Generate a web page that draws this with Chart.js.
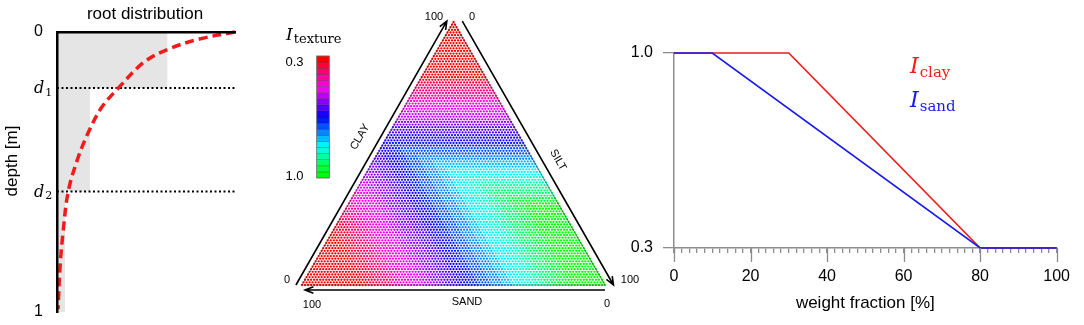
<!DOCTYPE html>
<html>
<head>
<meta charset="utf-8">
<script src="https://cdn.jsdelivr.net/npm/chart.js@4.4.1/dist/chart.umd.min.js"></script>
<style>
  html, body { margin: 0; padding: 0; background: #fff; }
  #wrap { position: relative; width: 1084px; height: 325px; overflow: hidden; }
  canvas { position: absolute; top: 0; }
</style>
</head>
<body>
<div id="wrap">
  <canvas id="rootChart" style="left:0px" width="260" height="325"></canvas>
  <canvas id="ternChart" style="left:270px" width="370" height="325"></canvas>
  <canvas id="indexChart" style="left:610px" width="474" height="325"></canvas>
</div>
<script>
// ---- data ----
// root distribution: relative root density vs depth
const rootDepth = [0, 0.025, 0.06, 0.107, 0.2, 0.27, 0.36, 0.455, 0.57, 0.715, 0.84, 0.99];
const rootShare = [1.0, 0.80, 0.63, 0.49, 0.345, 0.25, 0.175, 0.115, 0.063, 0.034, 0.017, 0.006];
// soil layers: boundaries (0, d1, d2, 1) and layer weights w_i (grey blocks)
const layerDepth = [0, 0.2, 0.57, 1.0];
const layerWeight = [0.62, 0.185, 0.045];
const depthLabels = ['0', 'd1', 'd2', '1'];

// texture index vs weight fraction
const clayFrac = [0, 30, 80, 100];
const clayIndex = [1.0, 1.0, 0.3, 0.3];
const sandFrac = [0, 10, 80, 100];
const sandIndex = [1.0, 1.0, 0.3, 0.3];
const fracTicks = [0, 20, 40, 60, 80, 100];
const indexTicks = [0.3, 1.0];

// colour bar levels for I_texture
const nLevels = 20;

const SANS = '"Liberation Sans", Arial, Helvetica, sans-serif';
const SERIF = '"DejaVu Serif", "Liberation Serif", serif';

// ---- helpers ----
function interp(xs, ys, v) {
  for (let i = 1; i < xs.length; i++) {
    if (v <= xs[i]) {
      const t = (v - xs[i - 1]) / (xs[i] - xs[i - 1]);
      return ys[i - 1] + t * (ys[i] - ys[i - 1]);
    }
  }
  return ys[ys.length - 1];
}

// 0.3 -> red, 1.0 -> green (rainbow going through magenta, blue, cyan)
function levelColor(k) {
  const hue = 120 + (k / (nLevels - 1)) * 240;
  return 'hsl(' + (hue % 360) + ',100%,50%)';
}
function indexColor(I) {
  const k = Math.round((1 - I) / 0.7 * (nLevels - 1));
  return levelColor(k);
}

// math-like label: italic main letter + upright subscript
function mathLabel(ctx, x, y, main, sub, size, subSize, color) {
  ctx.save();
  ctx.fillStyle = color;
  ctx.textAlign = 'left';
  ctx.textBaseline = 'alphabetic';
  ctx.font = 'italic ' + size + 'px ' + SERIF;
  ctx.fillText(main, x, y);
  const w = ctx.measureText(main).width;
  ctx.font = subSize + 'px ' + SERIF;
  ctx.fillText(sub, x + w + 1, y + size * 0.18);
  ctx.restore();
}

function arrow(ctx, x1, y1, x2, y2) {
  const a = Math.atan2(y2 - y1, x2 - x1);
  const L = 9, s = 0.38;
  ctx.beginPath();
  ctx.moveTo(x1, y1);
  ctx.lineTo(x2, y2);
  ctx.moveTo(x2 - L * Math.cos(a - s), y2 - L * Math.sin(a - s));
  ctx.lineTo(x2, y2);
  ctx.lineTo(x2 - L * Math.cos(a + s), y2 - L * Math.sin(a + s));
  ctx.stroke();
}

// ---- panel 1: root distribution ----
const shadePoly = [{ x: 0, y: layerDepth[0] }];
layerWeight.forEach((w, i) => {
  shadePoly.push({ x: w, y: layerDepth[i] });
  shadePoly.push({ x: w, y: layerDepth[i + 1] });
});
shadePoly.push({ x: 0, y: layerDepth[layerDepth.length - 1] });

const rootText = {
  id: 'rootText',
  afterDraw(chart) {
    const { ctx, scales } = chart;
    ctx.save();
    ctx.fillStyle = '#000';
    ctx.font = '17px ' + SANS;
    ctx.textAlign = 'center';
    ctx.textBaseline = 'middle';
    ctx.fillText('root distribution', 145, 14);
    ctx.translate(12, 161);
    ctx.rotate(-Math.PI / 2);
    ctx.fillText('depth [m]', 0, 0);
    ctx.restore();
    // d1, d2 tick labels
    [1, 2].forEach((i) => {
      const py = scales.y.getPixelForValue(layerDepth[i]);
      mathLabel(ctx, 34, py + 5, 'd', depthLabels[i].slice(1), 16, 11, '#000');
    });
  }
};

new Chart(document.getElementById('rootChart'), {
  type: 'scatter',
  data: {
    datasets: [
      {
        data: rootDepth.map((d, i) => ({ x: rootShare[i], y: d })),
        showLine: true,
        borderColor: '#f01c1c',
        borderWidth: 3.5,
        borderDash: [9, 5],
        pointRadius: 0,
        tension: 0.35,
        clip: 4
      },
      {
        data: [{ x: 0, y: layerDepth[1] }, { x: 1, y: layerDepth[1] }],
        showLine: true, borderColor: '#000', borderWidth: 2, borderDash: [2, 2.5], pointRadius: 0
      },
      {
        data: [{ x: 0, y: layerDepth[2] }, { x: 1, y: layerDepth[2] }],
        showLine: true, borderColor: '#000', borderWidth: 2, borderDash: [2, 2.5], pointRadius: 0
      },
      {
        data: shadePoly,
        showLine: true,
        borderWidth: 0,
        backgroundColor: '#e5e5e5',
        fill: 'shape',
        pointRadius: 0,
        tension: 0
      }
    ]
  },
  options: {
    responsive: false,
    animation: false,
    events: [],
    layout: { padding: { left: 0, top: 32, right: 25, bottom: 13 }, autoPadding: false },
    plugins: { legend: { display: false }, tooltip: { enabled: false } },
    scales: {
      x: {
        type: 'linear', position: 'top', min: 0, max: 1,
        grid: { display: false, drawTicks: false },
        ticks: { display: false },
        border: { color: '#000', width: 2.5, z: 1 },
        afterFit: (s) => { s.height = 0; s.paddingLeft = 0; s.paddingRight = 0; }
      },
      y: {
        type: 'linear', reverse: true, min: 0, max: 1,
        grid: { display: false, drawTicks: false },
        border: { color: '#000', width: 2.5, z: 1 },
        ticks: {
          padding: 14, color: '#000', font: { family: SANS, size: 16 },
          callback: (v) => (v === 0 || v === 1 ? String(v) : '')
        },
        afterBuildTicks: (s) => { s.ticks = layerDepth.map((v) => ({ value: v })); },
        afterFit: (s) => { s.width = 57; s.paddingTop = 0; s.paddingBottom = 0; }
      }
    }
  },
  plugins: [rootText]
});

// ---- panel 2: texture triangle ----
const H = 50 * Math.sqrt(3);
const ternPts = [];
const ternCols = [];
for (let clay = 0; clay <= 100; clay++) {
  for (let sand = 0; sand <= 100 - clay; sand++) {
    const silt = 100 - clay - sand;
    const I = Math.min(interp(clayFrac, clayIndex, clay), interp(sandFrac, sandIndex, sand));
    ternPts.push({ x: silt + clay / 2, y: clay * Math.sqrt(3) / 2 });
    ternCols.push(indexColor(I));
  }
}

const ternDecor = {
  id: 'ternDecor',
  afterDraw(chart) {
    const { ctx, scales } = chart;
    const px = (v) => scales.x.getPixelForValue(v);
    const py = (v) => scales.y.getPixelForValue(v);
    ctx.save();
    ctx.strokeStyle = '#000';
    ctx.lineWidth = 1.6;
    // CLAY (left, pointing up), SILT (right, pointing down), SAND (bottom, pointing left)
    arrow(ctx, px(-2), py(0), px(47.8), py(H + 0.3));
    arrow(ctx, px(52.9), py(H + 0.3), px(102.8), py(0));
    arrow(ctx, px(100), py(-1.65), px(1), py(-1.65));

    ctx.fillStyle = '#000';
    ctx.font = '11px ' + SANS;
    ctx.textAlign = 'center';
    ctx.textBaseline = 'middle';
    ctx.fillText('100', 164, 17);
    ctx.fillText('0', 202, 17);
    ctx.fillText('0', 17, 280);
    ctx.fillText('100', 42, 305);
    ctx.fillText('SAND', 197, 302);
    ctx.fillText('0', 337, 304);
    ctx.fillText('100', 360, 280);
    ctx.save();
    ctx.translate(90, 137);
    ctx.rotate(-Math.PI / 3);
    ctx.fillText('CLAY', 0, 0);
    ctx.restore();
    ctx.save();
    ctx.translate(288, 160);
    ctx.rotate(Math.PI / 3);
    ctx.fillText('SILT', 0, 0);
    ctx.restore();

    // colour bar
    const bx = 46.7, bw = 12.6, top = 56, bottom = 178;
    const sh = (bottom - top) / nLevels;
    for (let k = 0; k < nLevels; k++) {
      const y0 = top + (nLevels - 1 - k) * sh;
      ctx.fillStyle = levelColor(k);
      ctx.fillRect(bx, y0, bw, sh);
      ctx.strokeStyle = 'rgba(0,0,0,0.35)';
      ctx.lineWidth = 0.6;
      ctx.strokeRect(bx, y0, bw, sh);
    }
    ctx.strokeStyle = '#777';
    ctx.lineWidth = 0.8;
    ctx.strokeRect(bx, top, bw, bottom - top);
    ctx.fillStyle = '#000';
    ctx.font = '13px ' + SANS;
    ctx.textAlign = 'right';
    ctx.fillText(indexTicks[0].toFixed(1), 33.5, 62);
    ctx.fillText(indexTicks[1].toFixed(1), 33.5, 176);
    ctx.restore();
    mathLabel(ctx, 16, 39.5, 'I', 'texture', 17, 13, '#000');
  }
};

new Chart(document.getElementById('ternChart'), {
  type: 'scatter',
  data: {
    datasets: [
      {
        data: [{ x: 0, y: 0 }, { x: 50, y: H }, { x: 100, y: 0 }, { x: 0, y: 0 }],
        showLine: true, borderColor: 'rgba(50,50,50,0.7)', borderWidth: 0.8, pointRadius: 0, clip: 3
      },
      {
        data: ternPts,
        pointRadius: 1.15,
        pointBorderWidth: 0,
        pointBackgroundColor: ternCols,
        clip: 3
      }
    ]
  },
  options: {
    responsive: false,
    animation: false,
    events: [],
    layout: { padding: { left: 32, right: 35, top: 22, bottom: 40 }, autoPadding: false },
    plugins: { legend: { display: false }, tooltip: { enabled: false } },
    scales: {
      x: { type: 'linear', display: false, min: 0, max: 100 },
      y: { type: 'linear', display: false, min: 0, max: H }
    }
  },
  plugins: [ternDecor]
});

// ---- panel 3: I_clay and I_sand ----
const indexDecor = {
  id: 'indexDecor',
  afterDraw(chart) {
    const { ctx, scales } = chart;
    const y0 = scales.y.getPixelForValue(0.3);
    ctx.save();
    ctx.strokeStyle = '#8c8c8c';
    ctx.lineWidth = 1.3;
    ctx.beginPath();
    fracTicks.forEach((v) => {
      const x = Math.round(scales.x.getPixelForValue(v)) + 0.5;
      ctx.moveTo(x, y0);
      ctx.lineTo(x, y0 + 14);
    });
    ctx.stroke();
    ctx.restore();
    mathLabel(ctx, 300, 73, 'I', 'clay', 22, 15, '#f01c1c');
    mathLabel(ctx, 300, 107, 'I', 'sand', 22, 15, '#1a1aee');
  }
};

new Chart(document.getElementById('indexChart'), {
  type: 'scatter',
  data: {
    datasets: [
      {
        label: 'sand',
        data: sandFrac.map((x, i) => ({ x: x, y: sandIndex[i] })),
        showLine: true, borderColor: '#1a1aee', borderWidth: 1.7, pointRadius: 0, clip: 4
      },
      {
        label: 'clay',
        data: clayFrac.map((x, i) => ({ x: x, y: clayIndex[i] })),
        showLine: true, borderColor: '#f01c1c', borderWidth: 1.7, pointRadius: 0, clip: 4
      }
    ]
  },
  options: {
    responsive: false,
    animation: false,
    events: [],
    layout: { padding: { left: 0, top: 53, right: 22, bottom: 0 }, autoPadding: false },
    plugins: { legend: { display: false }, tooltip: { enabled: false } },
    scales: {
      x: {
        type: 'linear', min: 0, max: 100,
        grid: { drawOnChartArea: false, color: '#8c8c8c', tickLength: 5, lineWidth: 1.3 },
        border: { color: '#8c8c8c', width: 1.5 },
        ticks: {
          stepSize: 2, autoSkip: false, maxRotation: 0, padding: 14,
          color: '#000', font: { family: SANS, size: 16 },
          callback: (v) => (fracTicks.includes(v) ? String(v) : '')
        },
        title: {
          display: true, text: 'weight fraction [%]', color: '#000',
          font: { family: SANS, size: 17 }, padding: { top: 0, bottom: 11 }
        },
        afterFit: (s) => { s.height = 77; }
      },
      y: {
        type: 'linear', min: 0.3, max: 1.0,
        grid: { drawOnChartArea: false, color: '#8c8c8c', tickLength: 11, lineWidth: 1.3 },
        border: { color: '#8c8c8c', width: 1.5 },
        ticks: {
          padding: 10, color: '#000', font: { family: SANS, size: 16 },
          callback: (v) => Number(v).toFixed(1)
        },
        afterBuildTicks: (s) => { s.ticks = indexTicks.map((v) => ({ value: v })); },
        afterFit: (s) => { s.width = 64; }
      }
    }
  },
  plugins: [indexDecor]
});
</script>
</body>
</html>
